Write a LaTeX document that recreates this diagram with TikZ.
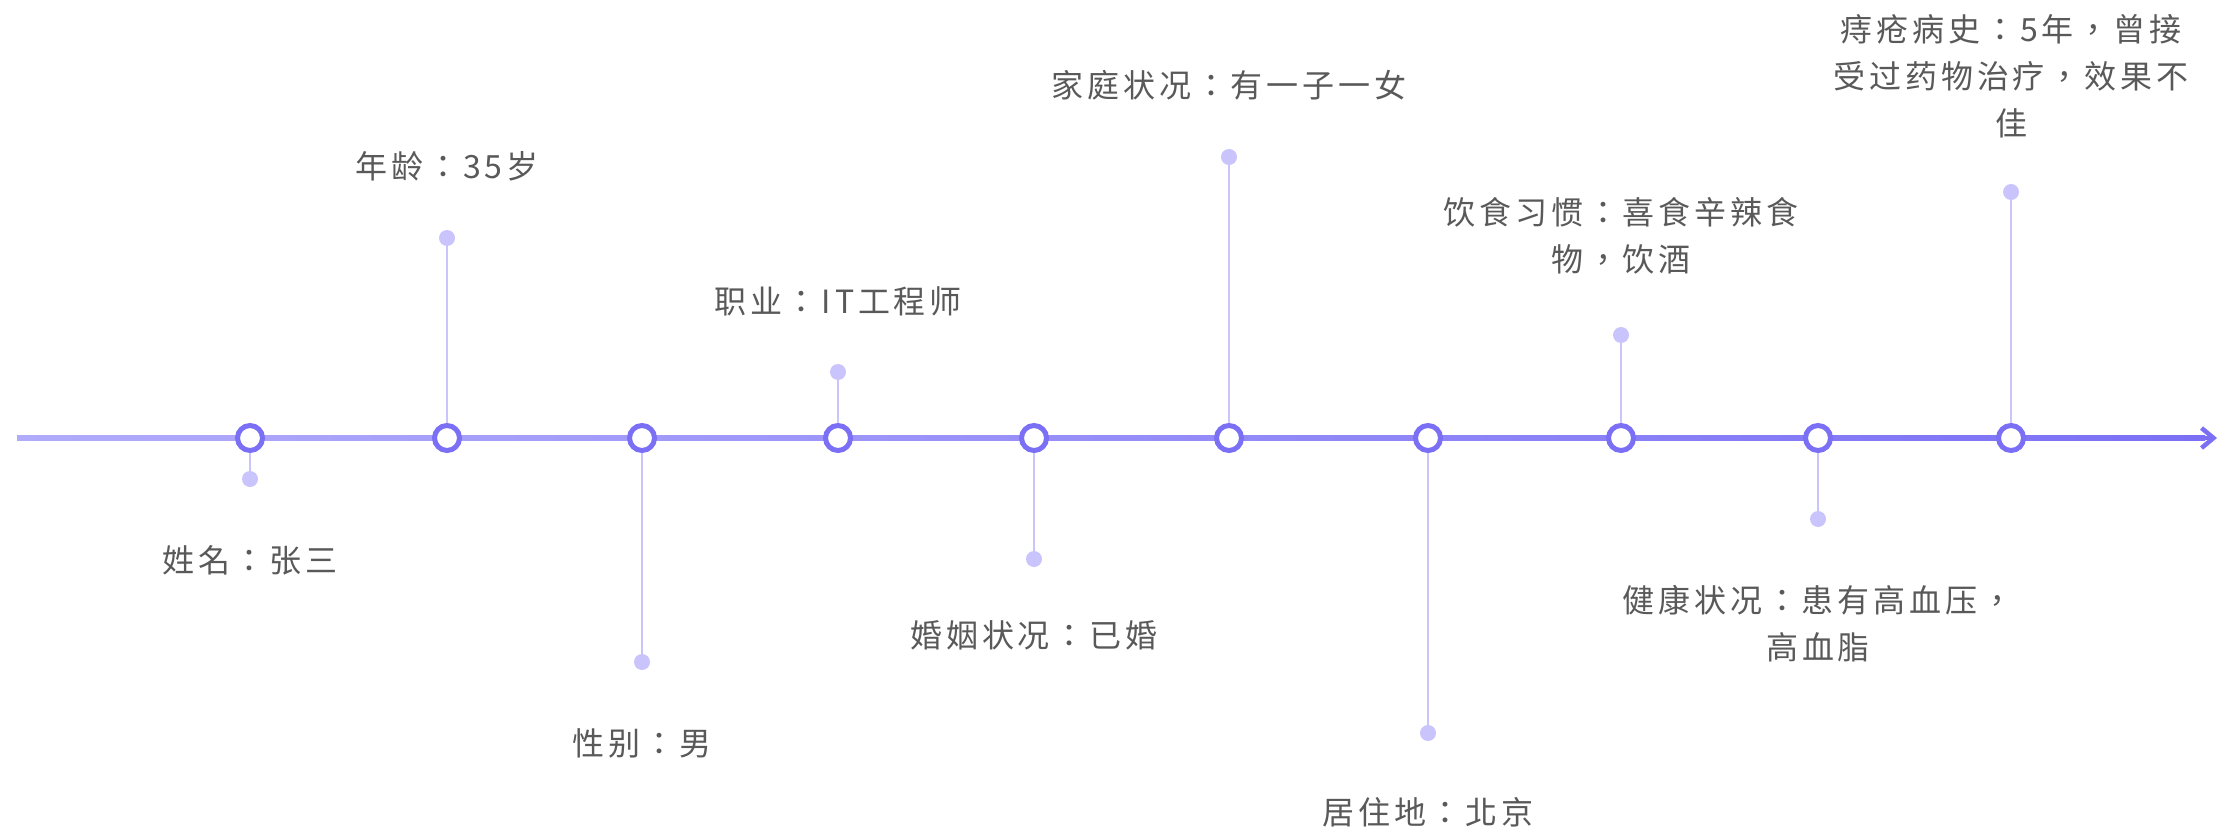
\documentclass[tikz,border=0pt]{standalone}
\usepackage{fontspec}
\setmainfont[LetterSpace=12]{Noto Sans CJK TC}
\usetikzlibrary{positioning,arrows.meta}

\definecolor{axisdark}{HTML}{7B70F5}
\definecolor{axislight}{HTML}{B1ABFB}
\definecolor{stemcol}{HTML}{C9C4FC}
\definecolor{txtcol}{HTML}{595959}

\tikzset{
  event/.style={circle, draw=axisdark, line width=5pt, fill=white, minimum size=25pt, inner sep=0pt},
  tipdot/.style={circle, fill=stemcol, minimum size=16pt, inner sep=0pt},
  stem/.style={draw=stemcol, line width=2.5pt},
  info/.style={text=txtcol, align=center, font=\fontsize{32}{47}\selectfont, inner sep=0pt},
}

\begin{document}
\begin{tikzpicture}[x=1pt,y=-1pt]
\useasboundingbox (0,0) rectangle (2219,829);

% time axis
\coordinate (start) at (17,438);
\coordinate (end) at (2217,438);
\shade[left color=axislight, right color=axisdark] ([yshift=2.3pt]start) rectangle ([yshift=-2.3pt,xshift=-12pt]end);
\draw[axisdark, line width=4.5pt, -{Straight Barb[length=12pt,width=20pt]}] ([xshift=-40pt]end) -- (end);

% events on the axis
\node[event] (c1) at (250,438) {};
\node[event] (c2) at (447,438) {};
\node[event] (c3) at (642,438) {};
\node[event] (c4) at (838,438) {};
\node[event] (c5) at (1034,438) {};
\node[event] (c6) at (1229,438) {};
\node[event] (c7) at (1428,438) {};
\node[event] (c8) at (1621,438) {};
\node[event] (c9) at (1818,438) {};
\node[event] (c10) at (2011,438) {};

% dots at the end of the stems
\node[tipdot] (d1) at (250,479) {};
\node[tipdot] (d2) at (447,238) {};
\node[tipdot] (d3) at (642,662) {};
\node[tipdot] (d4) at (838,372) {};
\node[tipdot] (d5) at (1034,559) {};
\node[tipdot] (d6) at (1229,157) {};
\node[tipdot] (d7) at (1428,733) {};
\node[tipdot] (d8) at (1621,335) {};
\node[tipdot] (d9) at (1818,519) {};
\node[tipdot] (d10) at (2011,192) {};

\draw[stem] (c1) -- (d1);
\draw[stem] (c2) -- (d2);
\draw[stem] (c3) -- (d3);
\draw[stem] (c4) -- (d4);
\draw[stem] (c5) -- (d5);
\draw[stem] (c6) -- (d6);
\draw[stem] (c7) -- (d7);
\draw[stem] (c8) -- (d8);
\draw[stem] (c9) -- (d9);
\draw[stem] (c10) -- (d10);

% labels
\node[info] (l1) at (250,560) {姓名：张三};
\node[info] (l2) at (447,166) {年龄：35岁};
\node[info] (l3) at (642,743) {性别：男};
\node[info] (l4) at (838,301) {职业：IT工程师};
\node[info] (l5) at (1034,635) {婚姻状况：已婚};
\node[info] (l6) at (1229,85) {家庭状况：有一子一女};
\node[info] (l7) at (1428,812) {居住地：北京};
\node[info] (l8) at (1621,236) {饮食习惯：喜食辛辣食\\物，饮酒};
\node[info] (l9) at (1818,624) {健康状况：患有高血压，\\高血脂};
\node[info] (l10) at (2011,76) {痔疮病史：5年，曾接\\受过药物治疗，效果不\\佳};
\end{tikzpicture}
\end{document}
